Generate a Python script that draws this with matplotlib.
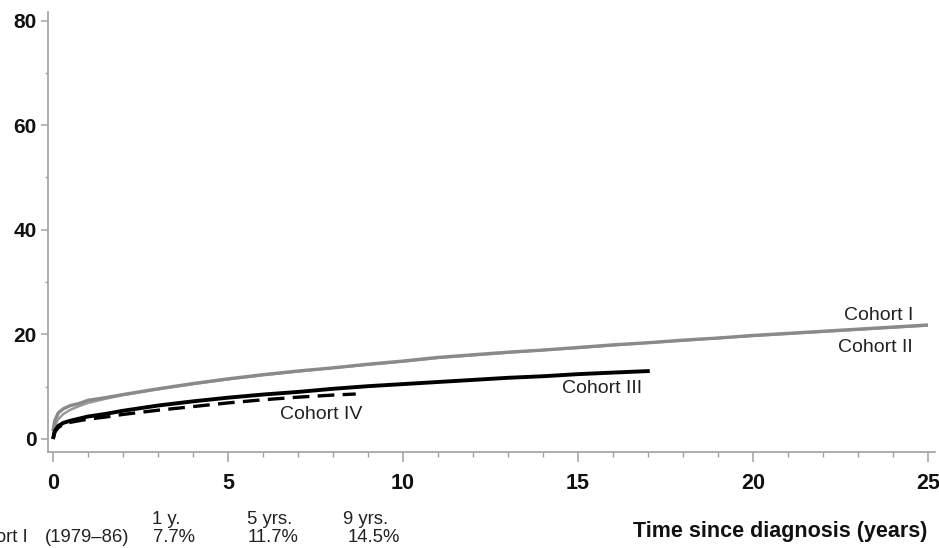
import matplotlib
matplotlib.use("Agg")
import matplotlib.pyplot as plt
from matplotlib.ticker import MultipleLocator

plt.rcParams['font.family'] = ['Liberation Sans', 'DejaVu Sans']

# cumulative incidence (%) vs time since diagnosis (years)
t_early = [0, 0.05, 0.15, 0.3, 0.5, 0.75, 1, 1.5, 2]

cohort1_t = t_early + list(range(3, 26))
cohort1_y = [1.5, 3.5, 5.0, 5.8, 6.4, 6.8, 7.4, 7.9, 8.5,
             9.6, 10.6, 11.5, 12.3, 13.0, 13.6, 14.3, 14.9, 15.6, 16.1,
             16.6, 17.0, 17.5, 18.0, 18.4, 18.9, 19.3, 19.8, 20.2, 20.6,
             21.0, 21.4, 21.8]

cohort2_t = t_early + list(range(3, 26))
cohort2_y = [0.8, 2.5, 3.8, 4.8, 5.6, 6.3, 6.9, 7.7, 8.4,
             9.5, 10.5, 11.4, 12.2, 12.9, 13.6, 14.2, 14.8, 15.5, 16.0,
             16.5, 17.0, 17.4, 17.9, 18.4, 18.8, 19.3, 19.7, 20.1, 20.5,
             20.9, 21.3, 21.7]

cohort3_t = t_early + list(range(3, 17)) + [17.05]
cohort3_y = [0.0, 1.5, 2.5, 3.1, 3.5, 3.9, 4.3, 4.8, 5.4,
             6.4, 7.2, 7.9, 8.5, 9.0, 9.6, 10.1, 10.5, 10.9, 11.3,
             11.7, 12.0, 12.4, 12.7, 13.0]

cohort4_t = t_early + [3, 4, 5, 6, 7, 8, 8.65]
cohort4_y = [0.0, 1.3, 2.2, 2.8, 3.2, 3.5, 3.8, 4.2, 4.7,
             5.5, 6.2, 6.9, 7.5, 8.0, 8.4, 8.6]

labels = ["Cohort I", "Cohort II", "Cohort III", "Cohort IV"]
label_pos = [(23.6, 23.7), (23.5, 17.4), (15.7, 9.75), (7.67, 4.6)]

table_head = ["1 y.", "5 yrs.", "9 yrs."]
table_row = ["Cohort I", "(1979\u201386)", "7.7%", "11.7%", "14.5%"]

W, H = 939, 548
fig = plt.figure(figsize=(W / 100, H / 100), dpi=100)
ax = fig.add_axes([48 / W, 1 - 452 / H, 887 / W, 440.3 / H])

gray = '#8a8a8a'
ax.plot(cohort2_t, cohort2_y, color='#9a9a9a', lw=1.8, solid_capstyle='butt')
ax.plot(cohort1_t, cohort1_y, color=gray, lw=2.4, solid_capstyle='butt')
ax.plot(cohort3_t, cohort3_y, color='black', lw=2.8, solid_capstyle='butt')
ax.plot(cohort4_t, cohort4_y, color='black', lw=2.4, dashes=(5, 2.5))

for lab, (x, y) in zip(labels, label_pos):
    ax.text(x, y, lab, fontsize=14, ha='center', va='center', color='#222222')

ax.set_xlim(-5 / 35, 882 / 35)
ax.set_ylim(-13 / 5.23, 427.3 / 5.23)

ax.xaxis.set_major_locator(MultipleLocator(5))
ax.xaxis.set_minor_locator(MultipleLocator(1))
ax.yaxis.set_major_locator(MultipleLocator(20))
ax.yaxis.set_minor_locator(MultipleLocator(10))

spine_col = '#a0a0a0'
for s in ['top', 'right']:
    ax.spines[s].set_visible(False)
for s in ['left', 'bottom']:
    ax.spines[s].set_color(spine_col)
    ax.spines[s].set_linewidth(1.2)

ax.tick_params(axis='x', which='major', length=7, width=1.1, color=spine_col, pad=8,
               labelsize=15.5)
ax.tick_params(axis='x', which='minor', length=3.5, width=1.0, color=spine_col)
ax.tick_params(axis='y', which='major', length=5, width=1.1, color=spine_col, pad=3,
               labelsize=15)
ax.tick_params(axis='y', which='minor', length=2.5, width=1.0, color=spine_col)
for lbl in ax.get_xticklabels() + ax.get_yticklabels():
    lbl.set_fontweight('bold')
    lbl.set_color('#111111')

fig.text(780 / W, 1 - 531 / H, "Time since diagnosis (years)", fontsize=15.5,
         fontweight='bold', ha='center', va='center', color='#111111')

# summary table under the axis (partly cut off at the left edge)
head_x = [152, 247, 343]
for txt, x in zip(table_head, head_x):
    fig.text(x / W, 1 - 519 / H, txt, fontsize=13.3, ha='left', va='center', color='#222222')
fig.text(28 / W, 1 - 538 / H, table_row[0], fontsize=13.3, ha='right', va='center', color='#222222')
row_x = [45, 153, 248, 348]
for txt, x in zip(table_row[1:], row_x):
    fig.text(x / W, 1 - 538 / H, txt, fontsize=13.3, ha='left', va='center', color='#222222')

fig.savefig("out.png", dpi=100)
